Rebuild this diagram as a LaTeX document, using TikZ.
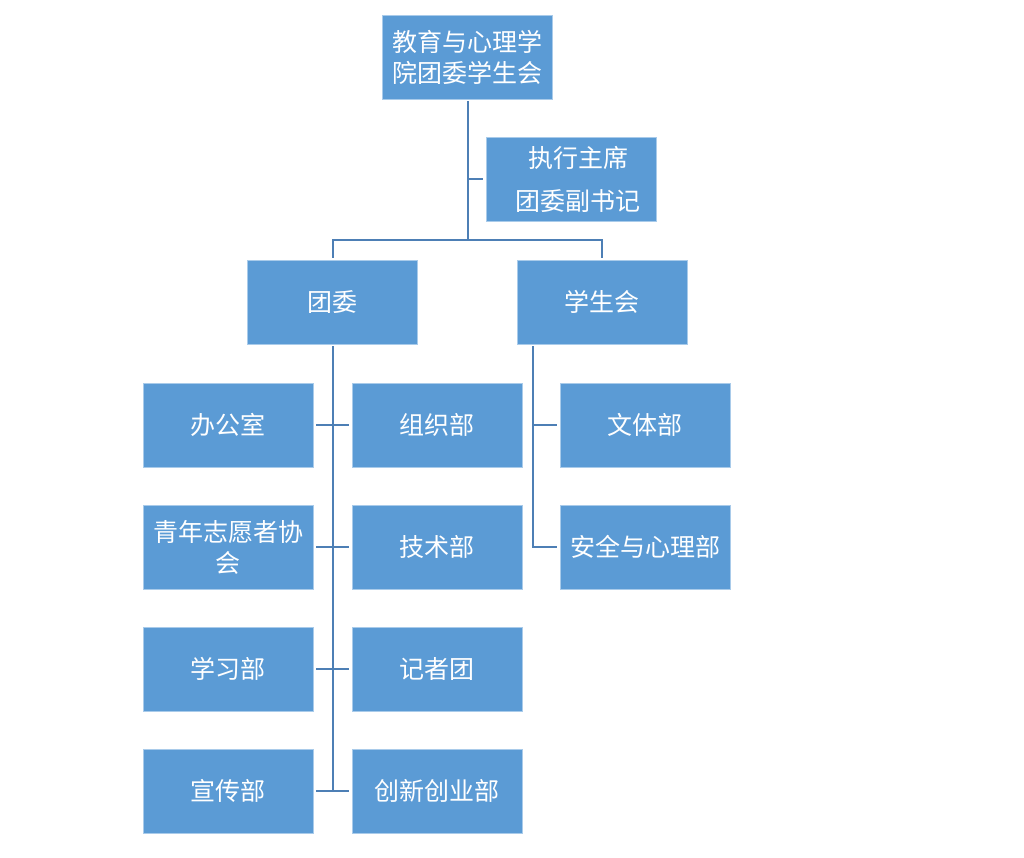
\documentclass[tikz,border=0pt]{standalone}
\usepackage{fontspec}
\newfontfamily\cjk{Noto Sans CJK SC}
\definecolor{boxfill}{HTML}{5B9BD5}
\definecolor{boxline}{HTML}{A9CBEA}
\definecolor{connline}{HTML}{4D7FB5}
\begin{document}
\begin{tikzpicture}[x=1pt,y=-1pt,
  orgbox/.style={rectangle, fill=boxfill, draw=boxline, line width=0.6pt,
    minimum width=170pt, minimum height=84pt, inner sep=0pt,
    text=white, align=center, font=\cjk\fontsize{25}{31}\selectfont},
  conn/.style={draw=connline, line width=2pt}]
\useasboundingbox (0,0) rectangle (1024,858);
% nodes
\node[orgbox] (top) at (467,57) {教育与心理学\\院团委学生会};
\node[orgbox, font=\cjk\fontsize{25}{43}\selectfont] (exec) at (571,179) {\hspace*{14pt}执行主席\\\hspace*{14pt}团委副书记};
\node[orgbox] (tw) at (332.5,302) {团委};
\node[orgbox] (xsh) at (602,302) {学生会};
\node[orgbox] (a1) at (228,425) {办公室};
\node[orgbox] (a2) at (228,547) {青年志愿者协\\会};
\node[orgbox] (a3) at (228,669) {学习部};
\node[orgbox] (a4) at (228,791) {宣传部};
\node[orgbox] (b1) at (437,425) {组织部};
\node[orgbox] (b2) at (437,547) {技术部};
\node[orgbox] (b3) at (437,669) {记者团};
\node[orgbox] (b4) at (437,791) {创新创业部};
\node[orgbox] (c1) at (645,425) {文体部};
\node[orgbox] (c2) at (645,547) {安全与心理部};
% helper coordinates
\coordinate (bar) at (468,240);
\coordinate (trunk) at (468,99);
\coordinate (xsl) at ([xshift=16pt]xsh.south west);
% connectors
\draw[conn, shorten <=2pt] (trunk) -- (bar);
\draw[conn, shorten >=3pt] (trunk |- exec.west) -- (exec.west);
\draw[conn, shorten <=2pt, shorten >=2pt] (tw.north) -- (tw.north |- bar) -- (xsh.north |- bar) -- (xsh.north);
\draw[conn, shorten <=2pt] (tw.south) -- (tw.south |- a4.east);
\foreach \i in {1,2,3,4}{
  \draw[conn, shorten <=3pt, shorten >=3pt] (a\i.east) -- (b\i.west);
}
\draw[conn, shorten <=2pt, shorten >=3pt] (xsl) |- (c2.west);
\draw[conn, shorten >=3pt] (xsl |- c1.west) -- (c1.west);
\end{tikzpicture}
\end{document}
